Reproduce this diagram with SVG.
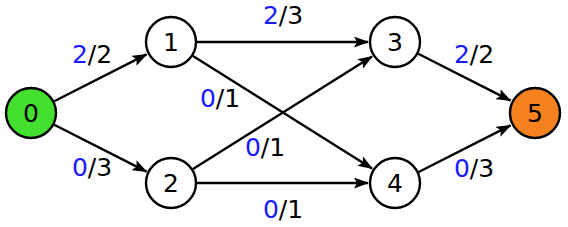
<svg xmlns="http://www.w3.org/2000/svg" width="568" height="227" viewBox="0 0 568 227">
<style>
.node circle{stroke:#000;stroke-width:2.4;}
.node text,.lbl{font-family:"DejaVu Sans",sans-serif;font-size:25px;text-anchor:middle;fill:#000;}
.edge{stroke:#000;stroke-width:2.4;fill:none;marker-end:url(#arr);}
.b{fill:#1a1aff;}
</style>
<defs>
<marker id="arr" markerUnits="userSpaceOnUse" viewBox="0 0 15 11" refX="14" refY="5.5" markerWidth="15" markerHeight="11" orient="auto">
<path d="M0,0 L15,5.5 L0,11 L3,5.5 z" fill="#000"/>
</marker>
</defs>
<rect width="568" height="227" fill="#fff"/>
<g id="connectors">
<line class="edge" x1="54.2" y1="101.2" x2="146.5" y2="54.4"/>
<line class="edge" x1="54.2" y1="124.8" x2="146.5" y2="171.6"/>
<line class="edge" x1="197" y1="42" x2="368" y2="42"/>
<line class="edge" x1="193" y1="55.9" x2="372" y2="168.5"/>
<line class="edge" x1="193" y1="169.1" x2="372" y2="56.5"/>
<line class="edge" x1="197" y1="183" x2="368" y2="183"/>
<line class="edge" x1="418.2" y1="53.8" x2="510.5" y2="100.6"/>
<line class="edge" x1="418.2" y1="172.2" x2="510.5" y2="125.4"/>
</g>
<g id="labels">
<text class="lbl" x="92" y="63"><tspan class="b">2</tspan>/2</text>
<text class="lbl" x="92" y="176"><tspan class="b">0</tspan>/3</text>
<text class="lbl" x="283" y="24"><tspan class="b">2</tspan>/3</text>
<text class="lbl" x="220" y="107"><tspan class="b">0</tspan>/1</text>
<text class="lbl" x="265" y="156"><tspan class="b">0</tspan>/1</text>
<text class="lbl" x="283" y="218"><tspan class="b">0</tspan>/1</text>
<text class="lbl" x="474" y="63"><tspan class="b">2</tspan>/2</text>
<text class="lbl" x="474" y="177"><tspan class="b">0</tspan>/3</text>
</g>
<g id="node0" class="node"><circle cx="31" cy="113" r="25" fill="#44e030"/><text x="31" y="122">0</text></g>
<g id="node1" class="node"><circle cx="171" cy="42" r="25" fill="#fff"/><text x="171" y="51">1</text></g>
<g id="node2" class="node"><circle cx="171" cy="183" r="25" fill="#fff"/><text x="171" y="192">2</text></g>
<g id="node3" class="node"><circle cx="395" cy="42" r="25" fill="#fff"/><text x="395" y="51">3</text></g>
<g id="node4" class="node"><circle cx="395" cy="183" r="25" fill="#fff"/><text x="395" y="192">4</text></g>
<g id="node5" class="node"><circle cx="535" cy="113" r="25" fill="#f5821f"/><text x="535" y="122">5</text></g>
</svg>
